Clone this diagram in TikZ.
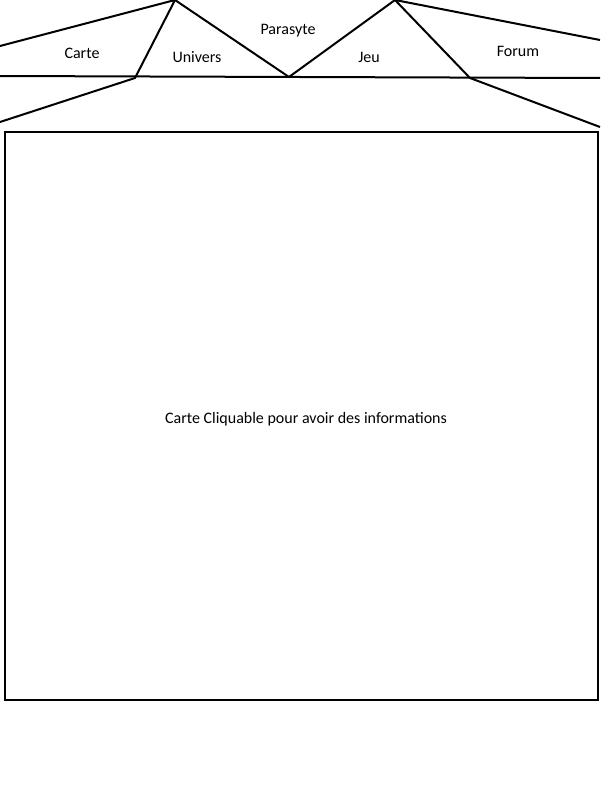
\documentclass[tikz,border=0pt]{standalone}
\usepackage{fontspec}
\setmainfont{Carlito}
\begin{document}
\begin{tikzpicture}[x=1pt,y=-1pt,
  edge/.style={draw=black,line width=2pt,line join=miter},
  lbl/.style={inner sep=0pt,font=\fontsize{16}{18}\selectfont}]
\useasboundingbox (0,0) rectangle (600,800);
\coordinate (l1) at (0,46);
\coordinate (t1) at (175,0);
\coordinate (b1) at (135,78);
\coordinate (v1) at (289,77);
\coordinate (t2) at (395,0);
\coordinate (b2) at (470,78);
\coordinate (r1) at (600,40);
\coordinate (hl) at (0,76);
\coordinate (hr) at (600,78);
\coordinate (l2) at (0,122);
\coordinate (r2) at (600,127);
\draw[edge] (l1) -- (t1) -- (b1) -- (l2);
\draw[edge] (t1) -- (v1) -- (t2) -- (b2) -- (r2);
\draw[edge] (t2) -- (r1);
\draw[edge] (hl) -- (hr);
\node[draw=black,line width=2pt,minimum width=593pt,minimum height=568pt,inner sep=0pt,anchor=north west] (map) at (4,131) {};
\node[lbl] (carte) at (82,53) {Carte};
\node[lbl] (univers) at (197,57) {Univers};
\node[lbl] (parasyte) at (288,31) {Parasyte};
\node[lbl] (jeu) at (369,57) {Jeu};
\node[lbl] (forum) at (518,51) {Forum};
\node[lbl] (info) at (306,419) {Carte Cliquable pour avoir des informations};
\end{tikzpicture}
\end{document}
